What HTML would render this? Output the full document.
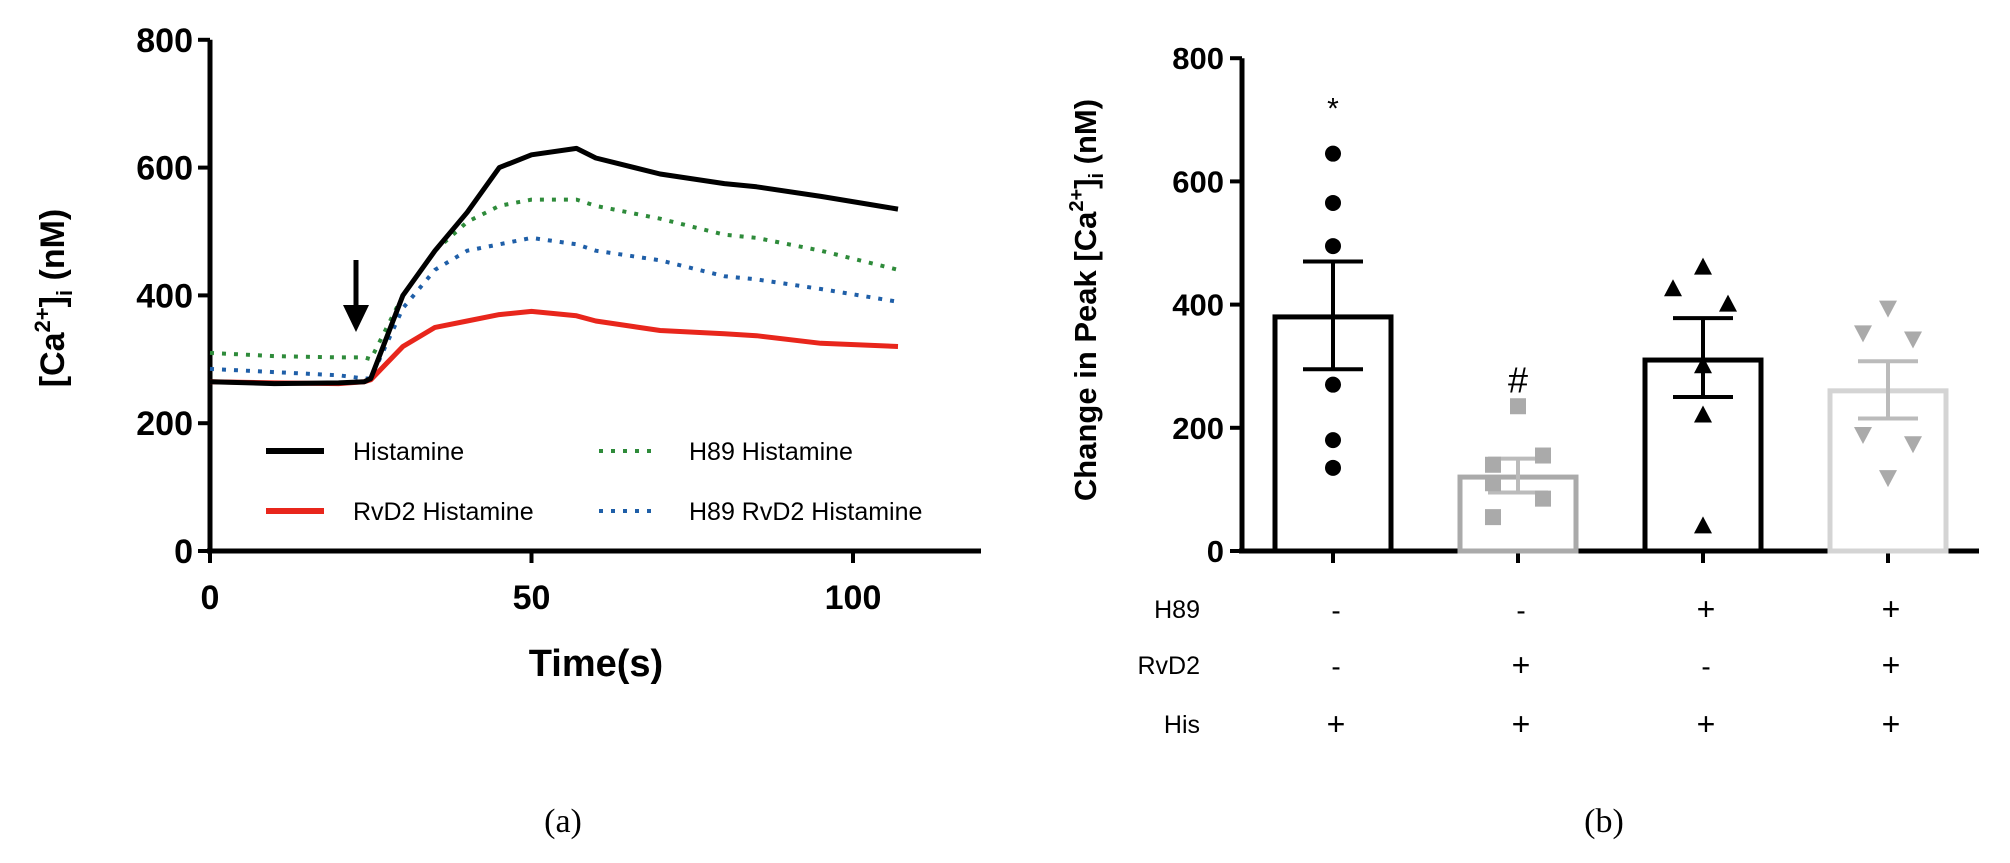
<!DOCTYPE html>
<html><head><meta charset="utf-8"><style>
body{margin:0;background:#fff;}
svg{display:block;font-family:"Liberation Sans",sans-serif;}
</style></head><body>
<svg id="s" width="2010" height="863" viewBox="0 0 2010 863">
<g id="pa"></g>
<g id="pb"></g>
<text x="563" y="832" font-family="Liberation Serif,serif" font-size="34" text-anchor="middle">(a)</text>
<text x="1604" y="832" font-family="Liberation Serif,serif" font-size="34" text-anchor="middle">(b)</text>
</svg>
<script>
const NS="http://www.w3.org/2000/svg";
// ---- Panel a data ----
const aTime=[0,10,20,24,25,30,35,40,45,50,57,60,70,80,85,95,107];
const histamine=[265,262,263,265,270,400,470,530,600,620,630,615,590,575,570,555,535];
const h89His=[310,305,303,303,300,400,470,515,540,550,550,540,520,495,490,470,440];
const rvd2His=[265,263,262,265,268,320,350,360,370,375,368,360,345,340,337,325,320];
const h89Rvd2=[285,280,275,270,270,380,440,470,480,490,480,470,455,430,425,410,390];
const aYTicks=[0,200,400,600,800];
const aXTicks=[0,50,100];
// ---- Panel b data ----
const groups=["His","RvD2 His","H89 His","H89 RvD2 His"];
const means=[380,120,310,260];
const semLo=[295,95,250,215];
const semHi=[470,150,378,308];
const pts0=[645,565,495,270,180,135];
const pts1=[235,155,140,110,85,55];
const pts2=[460,425,400,300,220,40];
const pts3=[395,355,345,190,175,120];
const bYTicks=[0,200,400,600,800];
const rowH89=["-","-","+","+"];
const rowRvD2=["-","+","-","+"];
const rowHis=["+","+","+","+"];

function el(parent,tag,attrs,txt){const e=document.createElementNS(NS,tag);for(const k in attrs)e.setAttribute(k,attrs[k]);if(txt!==undefined)e.textContent=txt;parent.appendChild(e);return e;}

// Panel a
const pa=document.getElementById('pa');
const ax=t=>210+t*6.43, ay=v=>551-v*0.639;
let e;
e=el(pa,'line',{x1:210,y1:ay(800),x2:210,y2:551,stroke:'#000','stroke-width':5});


e=el(pa,'line',{x1:207,y1:551,x2:981,y2:551,stroke:'#000','stroke-width':5});


aYTicks.forEach(v=>{
 el(pa,'line',{x1:198,y1:ay(v),x2:210,y2:ay(v),stroke:'#000','stroke-width':4});
 e=el(pa,'text',{x:193,y:ay(v)+12,'font-size':34,'font-weight':'bold','text-anchor':'end'},v);
 
 
});
aXTicks.forEach(v=>{
 el(pa,'line',{x1:ax(v),y1:551,x2:ax(v),y2:563,stroke:'#000','stroke-width':4});
 e=el(pa,'text',{x:ax(v),y:609,'font-size':34,'font-weight':'bold','text-anchor':'middle'},v);
 
 
});
e=el(pa,'text',{x:596,y:676,'font-size':38,'font-weight':'bold','text-anchor':'middle'},'Time(s)');


e=el(pa,'text',{transform:'translate(64,298) rotate(-90)','font-size':34,'font-weight':'bold','text-anchor':'middle'});
e.innerHTML='[Ca<tspan font-size="22" dy="-14">2+</tspan><tspan dy="14">]</tspan><tspan font-size="22" dy="8">i</tspan><tspan dy="-8"> (nM)</tspan>';


function series(vals,color,dash,name){
 const d=aTime.map((t,i)=>(i?'L':'M')+ax(t).toFixed(1)+','+ay(vals[i]).toFixed(1)).join(' ');
 const p=el(pa,'path',{d:d,fill:'none',stroke:color,'stroke-width':dash?4:5,'stroke-dasharray':dash?'4 8':'none','stroke-linejoin':'round'});
 
 
}
series(h89His,'#2e8b3a',true,'line-h89-histamine');
series(h89Rvd2,'#1f5fa8',true,'line-h89-rvd2-histamine');
series(rvd2His,'#e8261c',false,'line-rvd2-histamine');
series(histamine,'#000',false,'line-histamine');
// arrow
e=el(pa,'g',{});


el(e,'line',{x1:356,y1:260,x2:356,y2:310,stroke:'#000','stroke-width':5});
el(e,'polygon',{points:'343,305 369,305 356,332',fill:'#000'});
// legend
const leg=[[266,451,'#000',false,'Histamine'],[266,511,'#e8261c',false,'RvD2 Histamine'],[599,451,'#2e8b3a',true,'H89 Histamine'],[599,511,'#1f5fa8',true,'H89 RvD2 Histamine']];
leg.forEach(l=>{
 const g=el(pa,'g',{});
 
 
 el(g,'line',{x1:l[0],y1:l[1],x2:l[0]+58,y2:l[1],stroke:l[2],'stroke-width':l[3]?4:6,'stroke-dasharray':l[3]?'4 8':'none'});
 el(g,'text',{x:l[0]+(l[3]?90:87),y:l[1]+9,'font-size':25},l[4]);
});

// Panel b
const pb=document.getElementById('pb');
const by=v=>551-v*0.616;
const bx=i=>1333+i*185;
e=el(pb,'line',{x1:1242,y1:by(800),x2:1242,y2:551,stroke:'#000','stroke-width':5});


e=el(pb,'line',{x1:1239,y1:551,x2:1979,y2:551,stroke:'#000','stroke-width':5});


bYTicks.forEach(v=>{
 el(pb,'line',{x1:1230,y1:by(v),x2:1242,y2:by(v),stroke:'#000','stroke-width':4});
 e=el(pb,'text',{x:1224,y:by(v)+11,'font-size':31,'font-weight':'bold','text-anchor':'end'},v);
 
 
});
e=el(pb,'text',{transform:'translate(1096,300) rotate(-90)','font-size':31,'font-weight':'bold','text-anchor':'middle'});
e.innerHTML='Change in Peak [Ca<tspan font-size="20" dy="-13">2+</tspan><tspan dy="13">]</tspan><tspan font-size="20" dy="7">i</tspan><tspan dy="-7"> (nM)</tspan>';


const cols=['#000','#aaa','#000','#d4d4d4'];
const ptCols=['#000','#aaa','#000','#aaa'];
const allPts=[pts0,pts1,pts2,pts3];
const offs=[[0,0,0,0,0,0],[0,25,-25,-25,25,-25],[0,-30,25,0,0,0],[0,-25,25,-25,25,0]];
groups.forEach((g,i)=>{
 const c=bx(i);
 el(pb,'line',{x1:c,y1:551,x2:c,y2:563,stroke:'#000','stroke-width':4});
 e=el(pb,'rect',{x:c-58,y:by(means[i]),width:116,height:551-by(means[i]),fill:'#fff',stroke:cols[i],'stroke-width':5});
 
 
 const eb=el(pb,'g',{stroke:i%2?'#bbb':'#000','stroke-width':4});
 
 
 el(eb,'line',{x1:c,y1:by(semLo[i]),x2:c,y2:by(semHi[i])});
 el(eb,'line',{x1:c-30,y1:by(semHi[i]),x2:c+30,y2:by(semHi[i])});
 el(eb,'line',{x1:c-30,y1:by(semLo[i]),x2:c+30,y2:by(semLo[i])});
 allPts[i].forEach((v,j)=>{
  const px=c+offs[i][j],py=by(v);let m;
  if(i==0)m=el(pb,'circle',{cx:px,cy:py,r:8,fill:ptCols[i]});
  else if(i==1)m=el(pb,'rect',{x:px-8,y:py-8,width:16,height:16,fill:ptCols[i]});
  else if(i==2)m=el(pb,'polygon',{points:`${px},${py-10} ${px-9},${py+7} ${px+9},${py+7}`,fill:ptCols[i]});
  else m=el(pb,'polygon',{points:`${px},${py+10} ${px-9},${py-7} ${px+9},${py-7}`,fill:ptCols[i]});
  
  
 });
});
e=el(pb,'text',{x:bx(0),y:by(715)+8,'font-size':30,'text-anchor':'middle'},'*');


e=el(pb,'text',{x:bx(1),y:by(280)+14,'font-size':36,'text-anchor':'middle'},'#');


[['H89',rowH89,609],['RvD2',rowRvD2,665],['His',rowHis,724]].forEach(r=>{
 e=el(pb,'text',{x:1200,y:r[2]+9,'font-size':25,'text-anchor':'end'},r[0]);
 
 
 r[1].forEach((s,i)=>{
  e=el(pb,'text',{x:bx(i)+3,y:r[2]+11,'font-size':s=='+'?32:28,'text-anchor':'middle'},s);
  
  
 });
});
</script>
</body></html>
